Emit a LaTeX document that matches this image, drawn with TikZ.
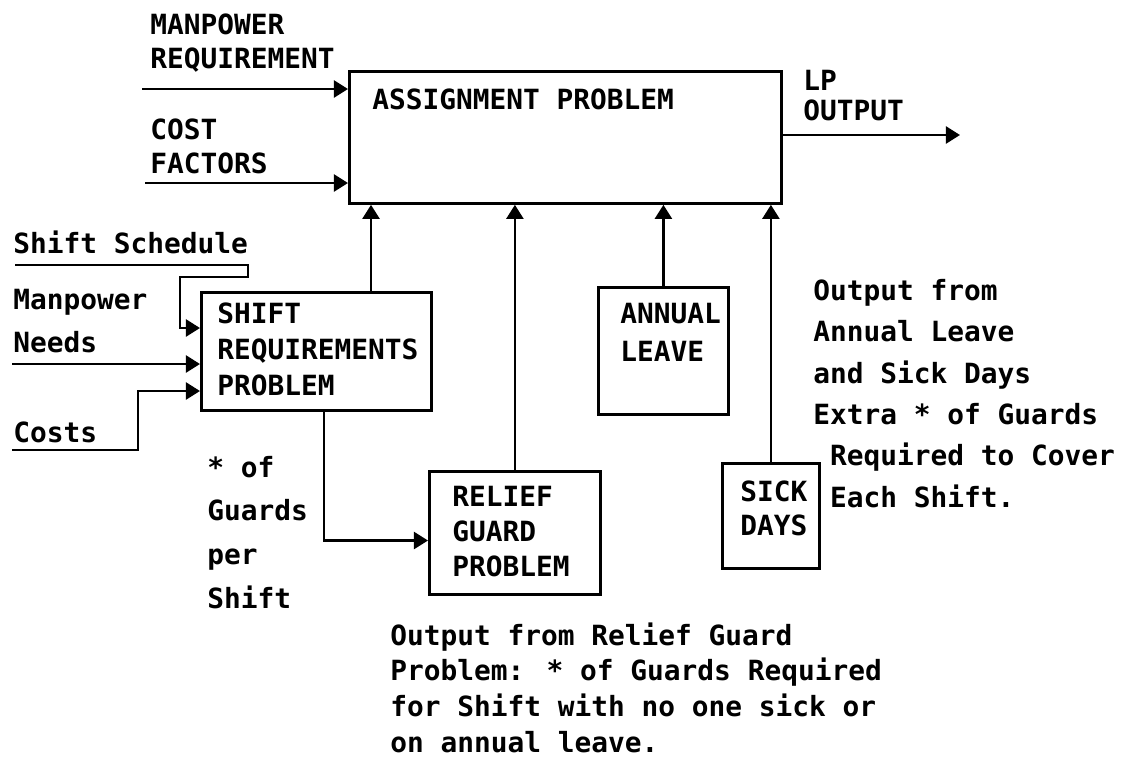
\documentclass[tikz,border=0pt]{standalone}
\usepackage{fontspec}
\setmainfont{DejaVu Sans Mono}
\usetikzlibrary{arrows.meta, positioning, calc}

\tikzset{
  blk/.style={draw, line width=2pt, anchor=north west, inner sep=0pt},
  lbl/.style={font=\fontsize{19.8}{#1}\selectfont\bfseries, align=left, anchor=base west, inner sep=0pt},
  lbl/.default=25.5,
  arr/.style={line width=2pt, -{Triangle[length=10pt, width=12pt]}},
}

\begin{document}
\begin{tikzpicture}[x=0.25cm, y=-0.25cm]
  \useasboundingbox (0,0) rectangle (113.2,77.9);
  % ================================================================
  % boxes
  % ================================================================
  \node[blk, minimum width=10.8cm, minimum height=3.3cm] (assign) at (34.8,7.0) {};
  \node[blk, minimum width=5.75cm, minimum height=2.95cm] (shift) at (20.0,29.1) {};
  \node[blk, minimum width=4.275cm, minimum height=3.075cm] (relief) at (42.8,47.0) {};
  \node[blk, minimum width=3.25cm, minimum height=3.175cm] (annual) at (59.7,28.6) {};
  \node[blk, minimum width=2.425cm, minimum height=2.625cm] (sick) at (72.1,46.2) {};
  % box texts (base = last line) ----------------------------------
  \node[lbl] (assigntxt) at (37.2,10.9) {ASSIGNMENT PROBLEM};
  \node[lbl=25.6] (shifttxt) at (21.7,39.5) {SHIFT\\REQUIREMENTS\\PROBLEM};
  \node[lbl=24.9] (relieftxt) at (45.2,57.6) {RELIEF\\GUARD\\PROBLEM};
  \node[lbl=27] (annualtxt) at (62.0,36.1) {ANNUAL\\LEAVE};
  \node[lbl=23.5] (sicktxt) at (74.0,53.5) {SICK\\DAYS};
  % ================================================================
  % labels
  % ================================================================
  \node[lbl=23.5] (mpreqtxt) at (15.0,6.8) {MANPOWER\\REQUIREMENT};
  \node[lbl=23.5] (costftxt) at (15.0,17.3) {COST\\FACTORS};
  \node[lbl=21.3] (lpouttxt) at (80.3,12.0) {LP\\OUTPUT};
  \node[lbl] (schedtxt) at (1.3,25.3) {Shift Schedule};
  \node[lbl=29.9] (needstxt) at (1.3,35.2) {Manpower\\Needs};
  \node[lbl] (coststxt) at (1.3,44.2) {Costs};
  \node[lbl=31] (guardstxt) at (20.7,60.8) {* of\\Guards\\per\\Shift};
  \node[lbl=29.4] (extratxt) at (81.3,50.7) {Output from\\Annual Leave\\and Sick Days\\Extra * of Guards\\~Required to Cover\\~Each Shift.};
  \node[lbl=25.3] (reliefouttxt) at (39.0,75.2) {Output from Relief Guard\\Problem: * of Guards Required\\for Shift with no one sick or\\on annual leave.};
  % ================================================================
  % connectors
  % ================================================================
  \coordinate (mpin) at (14.2,8.9);
  \coordinate (costin) at (14.5,18.3);
  \coordinate (lpend) at (96.0,13.5);
  \draw[arr] (mpin) -- (mpin -| assign.west);
  \draw[arr] (costin) -- (costin -| assign.west);
  \draw[arr] (lpend -| assign.east) -- (lpend);
  % inputs to shift requirements -----------------------------------
  \coordinate (schedin) at (1.5,26.5);
  \coordinate (schedarr) at (18.0,32.8);
  \coordinate (needsin) at (1.2,36.4);
  \coordinate (costsin) at (1.2,45.0);
  \coordinate (costsarr) at (13.8,39.1);
  \draw[arr] (schedin) -- (24.8,26.5) -- (24.8,27.7) -- (18.0,27.7) -- (schedarr) -- (schedarr -| shift.west);
  \draw[arr] (needsin) -- (needsin -| shift.west);
  \draw[arr] (costsin) -| (costsarr) -- (costsarr -| shift.west);
  % into the assignment problem ------------------------------------
  \coordinate (shiftup) at ([xshift=4.275cm]shift.north west);
  \draw[arr] (shiftup) -- (shiftup |- assign.south);
  \draw[arr] (relief.north) -- (relief.north |- assign.south);
  \draw[arr] (annual.north) -- (annual.north |- assign.south);
  \draw[arr] (sick.north) -- (sick.north |- assign.south);
  % shift requirements to relief guard -----------------------------
  \coordinate (shiftdown) at ([xshift=3.1cm]shift.south west);
  \coordinate (reliefin) at ([yshift=-0.19cm]relief.west);
  \draw[arr] (shiftdown) |- (reliefin);
\end{tikzpicture}
\end{document}
